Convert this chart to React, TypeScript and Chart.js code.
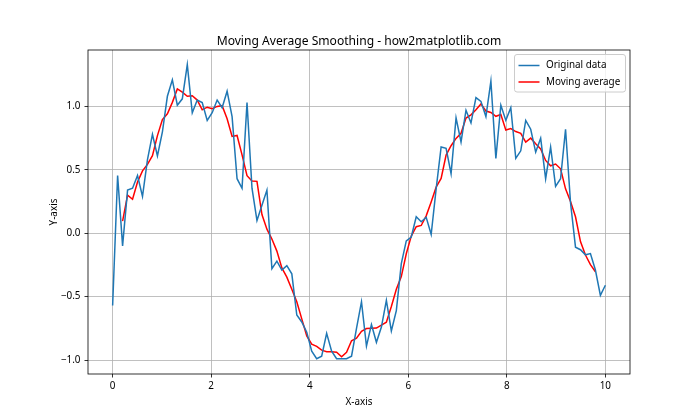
import { useEffect, useRef } from "react";
import { Chart, registerables } from "chart.js";

Chart.register(...registerables);

const TITLE = "Moving Average Smoothing - how2matplotlib.com";
const X_LABEL = "X-axis";
const Y_LABEL = "Y-axis";
const SERIES_NAMES = ["Original data", "Moving average"];
const X_START = 0;
const X_END = 10;
const WINDOW = 5;
const X_TICKS = [0, 2, 4, 6, 8, 10];
const Y_TICKS = [-1, -0.5, 0, 0.5, 1];

const ORIGINAL = [
  -0.57, 0.455, -0.1, 0.34, 0.355, 0.455, 0.29, 0.58, 0.78, 0.61,
  0.8, 1.08, 1.21, 1.01, 1.06, 1.33, 0.95, 1.05, 1.03, 0.89,
  0.95, 1.05, 0.99, 1.12, 0.92, 0.43, 0.355, 1.03, 0.355, 0.1,
  0.22, 0.34, -0.28, -0.22, -0.29, -0.255, -0.32, -0.645, -0.7, -0.78,
  -0.93, -0.99, -0.97, -0.79, -0.93, -0.99, -0.99, -0.99, -0.97, -0.75,
  -0.54, -0.89, -0.72, -0.86, -0.74, -0.53, -0.77, -0.61, -0.24, -0.06,
  -0.03, 0.13, 0.09, 0.126, -0.01, 0.35, 0.68, 0.67, 0.47, 0.91,
  0.72, 0.97, 0.87, 1.07, 1.04, 0.92, 1.2, 0.59, 1.01, 0.89,
  0.99, 0.59, 0.65, 0.89, 0.82, 0.64, 0.75, 0.43, 0.68, 0.37,
  0.43, 0.82, 0.24, -0.11, -0.13, -0.17, -0.16, -0.29, -0.49, -0.41,
];

const FONT = "'Noto Sans', 'DejaVu Sans', sans-serif";
const BLUE = "#1f77b4";
const RED = "#ff0000";

const xAt = (i: number) => X_START + ((X_END - X_START) * i) / (ORIGINAL.length - 1);

const originalPoints = ORIGINAL.map((y, i) => ({ x: xAt(i), y }));
const half = Math.floor(WINDOW / 2);
const movingPoints: { x: number; y: number }[] = [];
for (let i = half; i < ORIGINAL.length - half; i++) {
  let s = 0;
  for (let k = -half; k <= half; k++) s += ORIGINAL[i + k];
  movingPoints.push({ x: xAt(i), y: s / WINDOW });
}

const decorPlugin = {
  id: "decor",
  afterDraw(chart: any) {
    const { ctx, chartArea } = chart;
    const { left, right, top, bottom } = chartArea;
    ctx.save();
    ctx.strokeStyle = "#000";
    ctx.lineWidth = 0.8;
    ctx.strokeRect(left, top, right - left, bottom - top);
    ctx.fillStyle = "#000";
    ctx.textAlign = "center";
    ctx.textBaseline = "alphabetic";
    ctx.font = `12.1px ${FONT}`;
    ctx.fillText(TITLE, (left + right) / 2, 45);
    ctx.font = `9.9px ${FONT}`;
    ctx.fillText(X_LABEL, (left + right) / 2, 405);
    ctx.save();
    ctx.translate(56.5, (top + bottom) / 2);
    ctx.rotate(-Math.PI / 2);
    ctx.fillText(Y_LABEL, 0, 0);
    ctx.restore();
    const bx = 514.5, by = 54.5, bw = 111, bh = 37.5, r = 2.5;
    ctx.beginPath();
    ctx.moveTo(bx + r, by);
    ctx.lineTo(bx + bw - r, by);
    ctx.quadraticCurveTo(bx + bw, by, bx + bw, by + r);
    ctx.lineTo(bx + bw, by + bh - r);
    ctx.quadraticCurveTo(bx + bw, by + bh, bx + bw - r, by + bh);
    ctx.lineTo(bx + r, by + bh);
    ctx.quadraticCurveTo(bx, by + bh, bx, by + bh - r);
    ctx.lineTo(bx, by + r);
    ctx.quadraticCurveTo(bx, by, bx + r, by);
    ctx.closePath();
    ctx.fillStyle = "rgba(255,255,255,0.8)";
    ctx.fill();
    ctx.strokeStyle = "#cccccc";
    ctx.lineWidth = 1;
    ctx.stroke();
    const colors = [BLUE, RED];
    const ys = [65.5, 82];
    ctx.textAlign = "left";
    ctx.textBaseline = "middle";
    ctx.font = `9.9px ${FONT}`;
    SERIES_NAMES.forEach((name, k) => {
      ctx.strokeStyle = colors[k];
      ctx.lineWidth = 1.5;
      ctx.beginPath();
      ctx.moveTo(518.5, ys[k]);
      ctx.lineTo(539.5, ys[k]);
      ctx.stroke();
      ctx.fillStyle = "#000";
      ctx.fillText(name, 546, ys[k]);
    });
    ctx.restore();
  },
};

export default function App() {
  const ref = useRef<HTMLCanvasElement | null>(null);
  useEffect(() => {
    if (!ref.current) return;
    const chart = new Chart(ref.current, {
      type: "line",
      data: {
        datasets: [
          {
            label: SERIES_NAMES[0],
            data: originalPoints,
            borderColor: BLUE,
            borderWidth: 1.5,
            pointRadius: 0,
            tension: 0,
            fill: false,
          },
          {
            label: SERIES_NAMES[1],
            data: movingPoints,
            borderColor: RED,
            borderWidth: 1.5,
            pointRadius: 0,
            tension: 0,
            fill: false,
          },
        ],
      },
      options: {
        responsive: false,
        animation: false,
        devicePixelRatio: 1,
        layout: { padding: { top: 50, right: 70, left: 0, bottom: 0 } },
        plugins: { legend: { display: false }, title: { display: false }, tooltip: { enabled: false } },
        scales: {
          x: {
            type: "linear",
            min: -0.5,
            max: 10.5,
            afterBuildTicks: (scale: any) => {
              scale.ticks = X_TICKS.map((v) => ({ value: v }));
            },
            afterFit: (scale: any) => {
              scale.height = 46;
            },
            grid: { color: "#b0b0b0", lineWidth: 0.8, tickLength: 3.5, tickColor: "#000", tickWidth: 0.8 },
            border: { display: false },
            ticks: {
              color: "#000",
              font: { family: FONT, size: 9.9 },
              padding: 3,
              maxRotation: 0,
              autoSkip: false,
              callback: (v: any) => String(v),
            },
          },
          y: {
            type: "linear",
            min: -1.11,
            max: 1.445,
            afterBuildTicks: (scale: any) => {
              scale.ticks = Y_TICKS.map((v) => ({ value: v }));
            },
            afterFit: (scale: any) => {
              scale.width = 88;
            },
            grid: { color: "#b0b0b0", lineWidth: 0.8, tickLength: 3.5, tickColor: "#000", tickWidth: 0.8 },
            border: { display: false },
            ticks: {
              color: "#000",
              font: { family: FONT, size: 9.9 },
              padding: 4,
              autoSkip: false,
              callback: (v: any) => Number(v).toFixed(1).replace("-", "\u2212"),
            },
          },
        },
      },
      plugins: [decorPlugin],
    } as any);
    return () => chart.destroy();
  }, []);
  return (
    <div style={{ position: "fixed", left: 0, top: 0, width: 700, height: 420, background: "#fff" }}>
      <canvas ref={ref} width={700} height={420} style={{ display: "block" }} />
    </div>
  );
}
